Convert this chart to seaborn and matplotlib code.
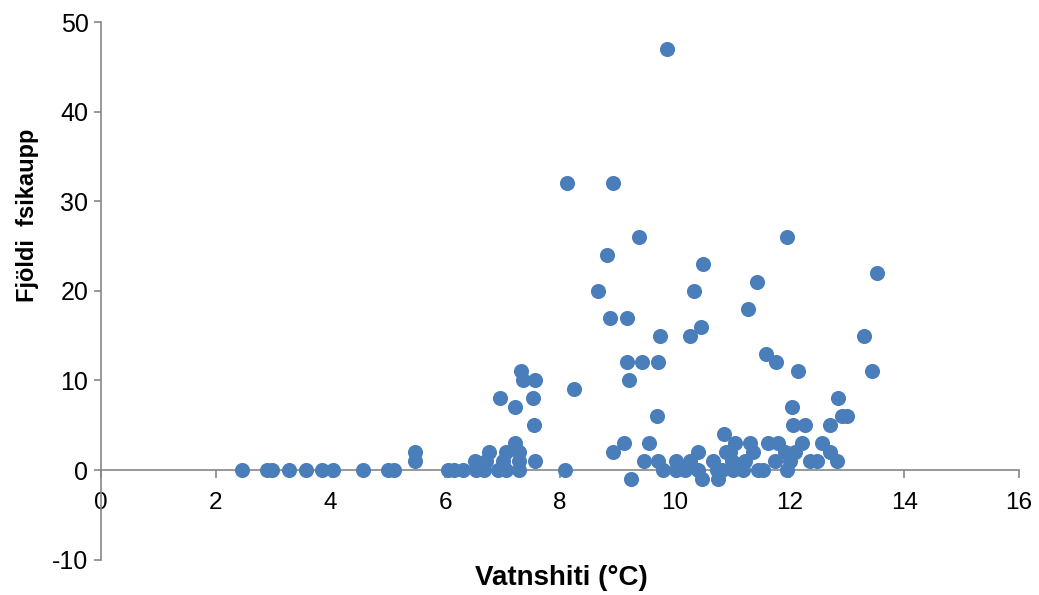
import matplotlib
matplotlib.use("Agg")
import matplotlib.pyplot as plt
import seaborn as sns
import pandas as pd

# Water temperature (°C) and number of fish caught per sample
temperature = [
    2.45, 2.90, 2.98, 3.27, 3.58, 3.86, 4.04, 4.56, 5.00, 5.10, 5.48, 5.48,
    6.04, 6.16, 6.31, 6.54, 6.68, 6.92, 7.06, 7.29,
    6.51, 6.71, 7.00, 7.29, 7.56,
    6.77, 7.06, 7.29,
    7.21,
    7.54, 7.21, 6.96, 7.53, 7.35, 7.57, 7.32,
    8.08, 8.25, 8.12, 8.92, 9.87,
    8.92, 9.11, 9.55, 9.24, 9.47, 9.71, 9.79,
    8.66, 8.82, 8.87, 9.17, 9.38, 9.17, 9.43, 9.70, 9.20, 9.69, 9.74,
    10.02, 10.03, 10.17, 10.26, 10.41, 10.41, 10.47, 10.67, 10.73, 10.76, 10.85, 10.90,
    10.50, 10.34, 10.45, 10.26,
    11.44, 11.28, 11.59, 11.76, 12.15, 11.95,
    10.99, 11.22, 11.75, 12.00, 12.36, 12.47, 12.82,
    10.82, 11.02, 11.19, 11.45, 11.54, 11.95,
    11.05, 11.31, 11.63, 11.80, 12.21, 12.56,
    10.96, 11.37, 11.92, 12.09, 12.70,
    12.04, 12.06, 12.27, 12.70, 12.92, 13.00, 12.85, 13.43, 13.30, 13.52,
]
fish_count = [
    0, 0, 0, 0, 0, 0, 0, 0, 0, 0, 1, 2,
    0, 0, 0, 0, 0, 0, 0, 0,
    1, 1, 1, 1, 1,
    2, 2, 2,
    3,
    5, 7, 8, 8, 10, 10, 11,
    0, 9, 32, 32, 47,
    2, 3, 3, -1, 1, 1, 0,
    20, 24, 17, 17, 26, 12, 12, 12, 10, 6, 15,
    1, 0, 0, 1, 2, 0, -1, 1, 0, -1, 4, 2,
    23, 20, 16, 15,
    21, 18, 13, 12, 11, 26,
    1, 1, 1, 1, 1, 1, 1,
    0, 0, 0, 0, 0, 0,
    3, 3, 3, 3, 3, 3,
    2, 2, 2, 2, 2,
    7, 5, 5, 5, 6, 6, 8, 11, 15, 22,
]

x_ticks = [0, 2, 4, 6, 8, 10, 12, 14, 16]
y_ticks = [-10, 0, 10, 20, 30, 40, 50]

df = pd.DataFrame({"Vatnshiti": temperature, "Fjoldi": fish_count})

sns.set_theme(style="white")
plt.rcParams["font.family"] = ["Liberation Sans", "DejaVu Sans"]

fig = plt.figure(figsize=(10.39, 5.95), dpi=100)
ax = fig.add_axes([0.0972, 0.0595, 0.8836, 0.9035])

sns.scatterplot(data=df, x="Vatnshiti", y="Fjoldi", ax=ax,
                color="#4A7EBB", s=118, linewidth=0, alpha=1.0, zorder=3)

ax.set_xlim(0, 16)
ax.set_ylim(-10, 50)

# axes cross at the origin
spine_col = "#868686"
ax.spines["left"].set_position(("data", 0))
ax.spines["bottom"].set_position(("data", 0))
ax.spines["right"].set_visible(False)
ax.spines["top"].set_visible(False)
for side in ("left", "bottom"):
    ax.spines[side].set_color(spine_col)
    ax.spines[side].set_linewidth(1.2)
    ax.spines[side].set_zorder(1)

ax.set_xticks(x_ticks)
ax.set_yticks(y_ticks)
ax.set_xticklabels([str(v) for v in x_ticks])
ax.set_yticklabels([str(v) for v in y_ticks])
ax.tick_params(axis="x", direction="out", length=5.5, width=1.2, color=spine_col,
               pad=10, labelsize=17.5, labelcolor="black", bottom=True)
ax.tick_params(axis="y", direction="out", length=5, width=1.2, color=spine_col,
               pad=4, labelsize=18, labelcolor="black", left=True)
ax.grid(False)

ax.set_xlabel("")
ax.set_ylabel("")
fig.text(0.540, 0.028, "Vatnshiti (°C)", ha="center", va="center",
         fontsize=20, fontweight="bold", color="black")
fig.text(0.026, 0.638, "Fjöldi  fsikaupp", ha="center", va="center",
         rotation=90, fontsize=17, fontweight="bold", color="black")

fig.savefig("out.png", dpi=100)
